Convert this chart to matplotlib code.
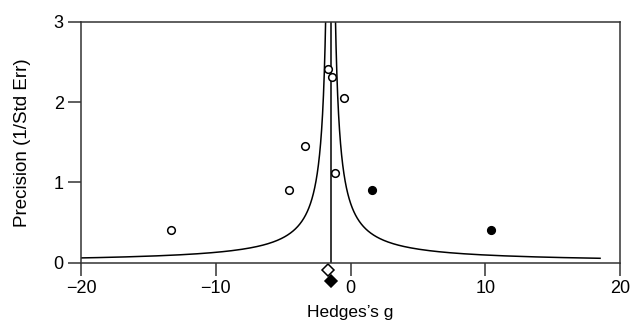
import matplotlib
matplotlib.use("Agg")
import matplotlib.pyplot as plt
import numpy as np
from matplotlib import font_manager

names = {f.name for f in font_manager.fontManager.ttflist}
fam = "Liberation Sans Narrow" if "Liberation Sans Narrow" in names else "Liberation Sans"
plt.rcParams['font.family'] = [fam, 'DejaVu Sans']

# Data
open_g = [-13.35, -4.53, -3.36, -1.68, -1.39, -0.50, -1.16]
open_prec = [0.41, 0.91, 1.46, 2.42, 2.31, 2.05, 1.12]
filled_g = [1.58, 10.39]
filled_prec = [0.91, 0.41]
center = -1.48
funnel_c = 1.1
observed_diamond = -1.65
adjusted_diamond = -1.48
xticks = [-20, -10, 0, 10, 20]
yticks = [0, 1, 2, 3]

fig = plt.figure(figsize=(6.3, 3.25), dpi=100)
ax = fig.add_axes([81/630, 1-262.7/325, (620-81)/630, (262.7-22)/325])

prec = np.linspace(0.055, 3.5, 800)
ax.plot(center - funnel_c/prec, prec, color='black', lw=1.1)
ax.plot(center + funnel_c/prec, prec, color='black', lw=1.1)
ax.plot([center, center], [0, 3], color='black', lw=1.1)

ax.plot(open_g, open_prec, 'o', mfc='white', mec='black', ms=5.5, mew=1.1)
ax.plot(filled_g, filled_prec, 'o', mfc='black', mec='black', ms=5.5, mew=1.1)

ax.plot([observed_diamond], [-0.085], 'D', mfc='white', mec='black', ms=6, mew=1.1, clip_on=False)
ax.plot([adjusted_diamond], [-0.23], 'D', mfc='black', mec='black', ms=6, mew=1.1, clip_on=False)

ax.set_xlim(-20, 20)
ax.set_ylim(0, 3)
ax.set_xticks(xticks)
ax.set_xticklabels(['\u221220', '\u221210', '0', '10', '20'])
ax.set_yticks(yticks)
for s in ax.spines.values():
    s.set_linewidth(1.1)
    s.set_color('#333333')
ax.tick_params(direction='out', length=9.5, width=1.1, labelsize=13, color='#333333', pad=3)
ax.set_xlabel("Hedges\u2019s g", fontsize=12.5, labelpad=6)
ax.set_ylabel("Precision (1/Std Err)", fontsize=13.5, labelpad=16)

fig.savefig("out.png", dpi=100)
